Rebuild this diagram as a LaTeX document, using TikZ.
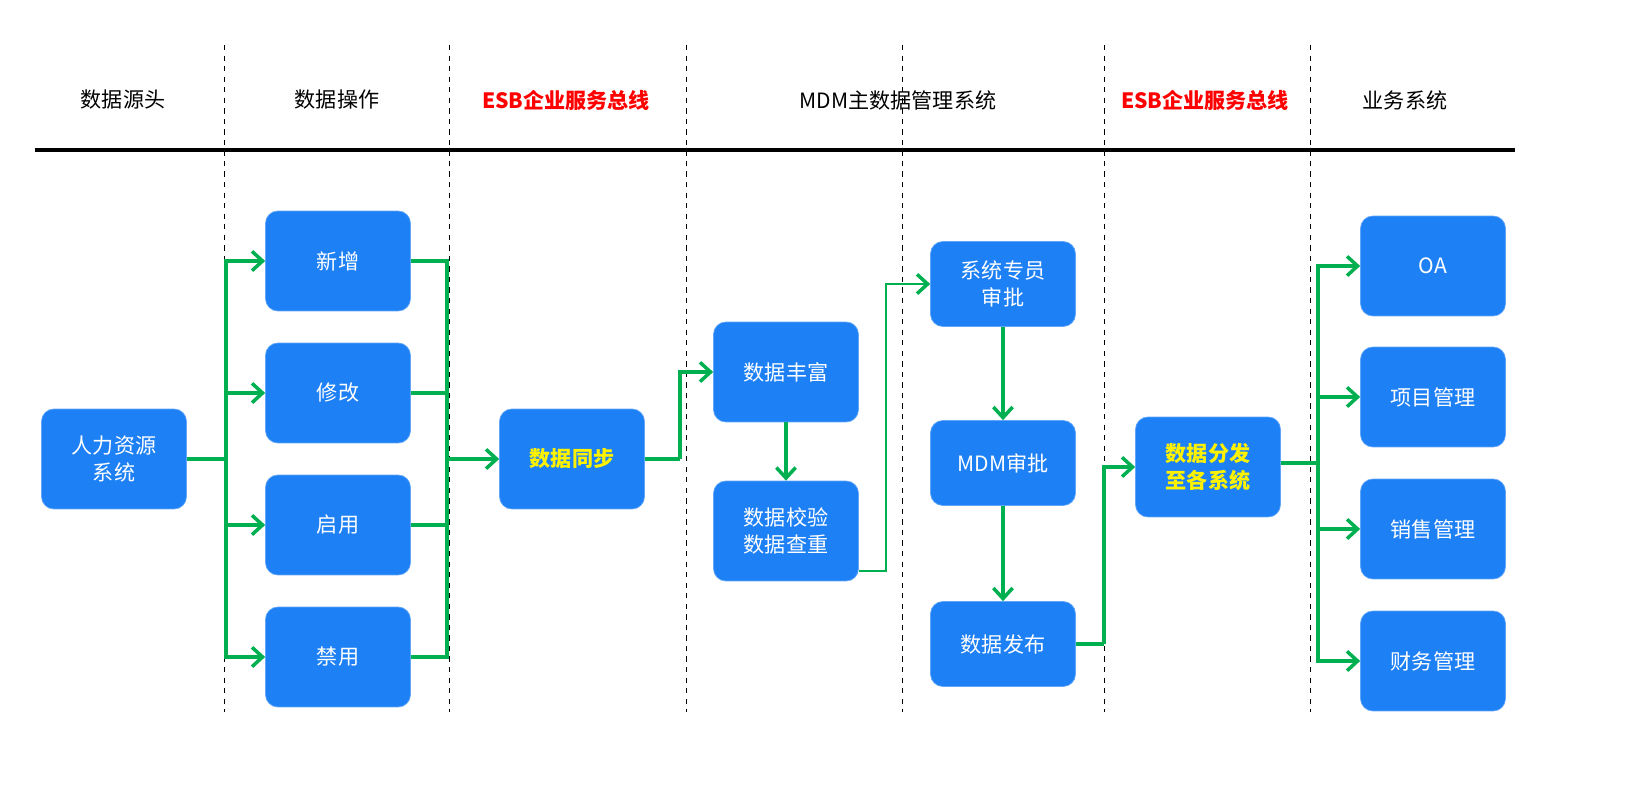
\documentclass[tikz,border=0pt]{standalone}
\usepackage{fontspec}
\newfontfamily\cjk{Noto Sans CJK SC}
\usetikzlibrary{arrows.meta,calc}
\definecolor{boxblue}{HTML}{1E80F5}
\definecolor{lineg}{HTML}{00B050}
\tikzset{
>={Straight Barb[length=6pt,width=11pt,line width=2pt]},
box/.style={rounded corners=7pt,fill=boxblue,draw=boxblue!70,minimum width=2.9cm,minimum height=2cm,
  text=white,align=center,font=\cjk\fontsize{12}{15}\selectfont},
lowbox/.style={box,minimum height=1.7cm},
hot/.style={text=yellow,font=\cjk\bfseries\fontsize{12}{15}\selectfont},
head/.style={font=\cjk\fontsize{12}{14}\selectfont},
esb/.style={head,text=red,font=\cjk\bfseries\fontsize{12}{14}\selectfont},
sep/.style={dashed,thin},
flow/.style={draw=lineg,line width=2.2pt},
freccia/.style={flow,->}}
\begin{document}
\begin{tikzpicture}[x=0.02cm,y=-0.02cm]

% headers
\node[head] (h1) at (123,100) {数据源头};
\node[head] (h2) at (337,100) {数据操作};
\node[esb]  (h3) at (566,100) {ESB企业服务总线};
\node[head] (h4) at (898,100) {MDM主数据管理系统};
\node[esb]  (h5) at (1205,100) {ESB企业服务总线};
\node[head] (h6) at (1405,100) {业务系统};
\draw[line width=2pt] (35,150) -- (1515,150);

\foreach \x in {224,449,686,902,1104,1310}
  \draw[sep] (\x,45) -- (\x,712);

% boxes
\node[box] (hr) at (114,459) {人力资源\\系统};
\node[box] (add) at (338,261) {新增};
\node[box] (mod) at (338,393) {修改};
\node[box] (en) at (338,525) {启用};
\node[box] (dis) at (338,657) {禁用};
\node[box,hot] (sync) at (572,459) {数据同步};
\node[box] (rich) at (786,372) {数据丰富};
\node[box] (chk) at (786,531) {数据校验\\数据查重};
\node[lowbox] (spec) at (1003,284) {系统专员\\审批};
\node[lowbox] (mdm) at (1003,463) {MDM审批};
\node[lowbox] (pub) at (1003,644) {数据发布};
\node[box,hot] (dist) at (1208,467) {数据分发\\至各系统};
\node[box] (oa) at (1433,266) {OA};
\node[box] (proj) at (1433,397) {项目管理};
\node[box] (sale) at (1433,529) {销售管理};
\node[box] (fin) at (1433,661) {财务管理};

\coordinate (b1) at (226,459);
\coordinate (b2) at (447,459);
\coordinate (b3) at (680,459);
\coordinate (b4) at (886,571);
\coordinate (b5) at (1104,644);
\coordinate (b6) at (1318,463);

% connectors
\draw[flow] (hr) -- (b1);
\foreach \n in {add,mod,en,dis}
  \draw[freccia] (b1) |- (\n);
\foreach \n in {add,mod,en,dis}
  \draw[flow] (\n) -| (b2);
\draw[freccia] (b2) -- (sync);
\draw[flow] (sync) -- (b3);
\draw[freccia] (b3) |- (rich);
\draw[freccia] (rich) -- (chk);
\draw[freccia,line width=1.3pt] (chk.east |- b4) -- (b4) |- (spec);
\draw[freccia] (spec) -- (mdm);
\draw[freccia] (mdm) -- (pub);
\draw[flow] (pub) -- (b5);
\draw[freccia] (b5) |- (dist);
\draw[flow] (dist.east |- b6) -- (b6);
\foreach \n in {oa,proj,sale,fin}
  \draw[freccia] (b6) |- (\n);

\pgfresetboundingbox
\useasboundingbox (0,0) rectangle (1633,804);
\end{tikzpicture}
\end{document}
